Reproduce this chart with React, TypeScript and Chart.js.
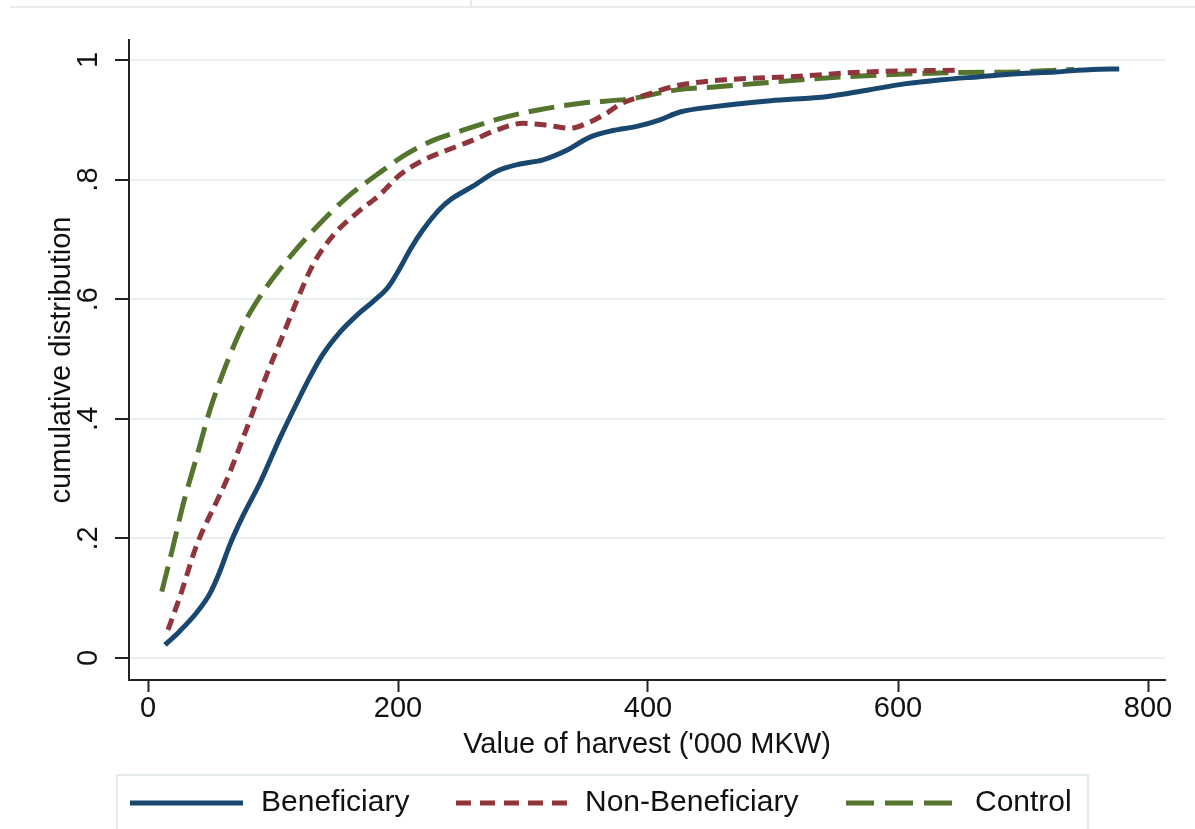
import React, { useEffect, useRef } from "react";
import { Chart, registerables } from "chart.js";

Chart.register(...registerables);

// Cumulative distribution of harvest value ('000 MKW) for each group
const beneficiaryX = [13.6, 25, 39, 49.6, 57, 65.6, 76, 89.6, 105.6, 119, 129.6, 140, 153.6, 167, 180, 192, 201.6, 210, 220, 233.6, 241.6, 260, 279, 297.6, 316, 335, 353.6, 372, 391, 409.6, 425.6, 453, 498, 544, 574, 605, 635, 665, 695.6, 725.7, 756, 777];
const beneficiaryY = [0.022, 0.044, 0.076, 0.108, 0.142, 0.19, 0.238, 0.293, 0.368, 0.426, 0.47, 0.508, 0.545, 0.573, 0.596, 0.62, 0.652, 0.684, 0.716, 0.751, 0.766, 0.789, 0.814, 0.826, 0.833, 0.849, 0.871, 0.882, 0.889, 0.9, 0.913, 0.922, 0.932, 0.939, 0.949, 0.96, 0.967, 0.972, 0.977, 0.98, 0.984, 0.985];

const nonBeneficiaryX = [16, 25.6, 39, 55, 63, 71, 84, 95, 108, 119, 132.6, 148.6, 167, 185.6, 201.6, 220, 239, 260, 279, 300, 319, 337.6, 351, 367, 377.6, 399, 423, 437.6, 461.6, 513.6, 574, 650];
const nonBeneficiaryY = [0.047, 0.103, 0.189, 0.262, 0.298, 0.34, 0.412, 0.474, 0.54, 0.597, 0.66, 0.708, 0.744, 0.775, 0.808, 0.832, 0.849, 0.866, 0.883, 0.894, 0.891, 0.886, 0.894, 0.911, 0.926, 0.942, 0.957, 0.962, 0.967, 0.972, 0.98, 0.983];

const controlX = [11, 20, 28, 39, 49.6, 63, 76, 92, 113.6, 135, 159, 183, 207, 228.6, 252.6, 281.6, 311, 348, 385.6, 423, 453, 489, 529, 589, 650, 696, 725.7, 741];
const controlY = [0.111, 0.186, 0.256, 0.337, 0.415, 0.493, 0.556, 0.612, 0.671, 0.721, 0.77, 0.808, 0.843, 0.866, 0.883, 0.902, 0.916, 0.928, 0.935, 0.95, 0.955, 0.961, 0.968, 0.975, 0.979, 0.98, 0.983, 0.984];

const seriesNames = ["Beneficiary", "Non-Beneficiary", "Control"];
const xTicks = [0, 200, 400, 600, 800];
const yTicks = [0, 0.2, 0.4, 0.6, 0.8, 1];
const yTickLabels = ["0", ".2", ".4", ".6", ".8", "1"];
const xTitle = "Value of harvest ('000 MKW)";
const yTitle = "cumulative distribution";

const FONT = "'Liberation Sans', Arial, Helvetica, sans-serif";
const TEXT = "#111111";
const AXIS = "#222222";
const GRID = "#e9f0f2";

const NAVY = "#1a476f";
const MAROON = "#90353b";
const FOREST = "#55752f";

const toPoints = (xs: number[], ys: number[]) => xs.map((x, i) => ({ x, y: ys[i] }));

// Framed legend row under the x-axis title, with line samples
const legendPlugin = {
  id: "framedLegend",
  afterDraw(chart: any) {
    const ctx = chart.ctx as CanvasRenderingContext2D;
    const items = [
      { x0: 130, x1: 243, tx: 261, dash: [] as number[] },
      { x0: 456, x1: 568, tx: 585, dash: [15, 9] },
      { x0: 846, x1: 952, tx: 975, dash: [28, 11] },
    ];
    const cy = 803;
    ctx.save();
    ctx.strokeStyle = "#e2eaee";
    ctx.lineWidth = 2;
    ctx.strokeRect(117, 775, 971, 90);
    chart.data.datasets.forEach((ds: any, i: number) => {
      const it = items[i];
      ctx.beginPath();
      ctx.setLineDash(it.dash);
      ctx.strokeStyle = ds.borderColor;
      ctx.lineWidth = 5;
      ctx.lineCap = "butt";
      ctx.moveTo(it.x0, cy);
      ctx.lineTo(it.x1, cy);
      ctx.stroke();
      ctx.setLineDash([]);
      ctx.fillStyle = TEXT;
      ctx.font = `30px ${FONT}`;
      ctx.textBaseline = "middle";
      ctx.textAlign = "left";
      ctx.fillText(ds.label, it.tx, cy);
    });
    ctx.restore();
  },
};

export default function App() {
  const canvasRef = useRef<HTMLCanvasElement | null>(null);

  useEffect(() => {
    const canvas = canvasRef.current;
    if (!canvas) return;
    const chart = new Chart(canvas, {
      type: "line",
      data: {
        datasets: [
          {
            label: seriesNames[0],
            data: toPoints(beneficiaryX, beneficiaryY),
            borderColor: NAVY,
            borderWidth: 5,
            pointRadius: 0,
            cubicInterpolationMode: "monotone",
          },
          {
            label: seriesNames[1],
            data: toPoints(nonBeneficiaryX, nonBeneficiaryY),
            borderColor: MAROON,
            borderWidth: 5,
            borderDash: [12, 7],
            pointRadius: 0,
            cubicInterpolationMode: "monotone",
          },
          {
            label: seriesNames[2],
            data: toPoints(controlX, controlY),
            borderColor: FOREST,
            borderWidth: 5,
            borderDash: [26, 10],
            pointRadius: 0,
            cubicInterpolationMode: "monotone",
          },
        ],
      },
      options: {
        responsive: false,
        animation: false,
        devicePixelRatio: 1,
        layout: { padding: { top: 40, right: 30, bottom: 0, left: 0 } },
        plugins: {
          legend: { display: false },
          tooltip: { enabled: false },
        },
        scales: {
          x: {
            type: "linear",
            min: -15.2,
            max: 813.6,
            afterBuildTicks: (scale: any) => {
              scale.ticks = xTicks.map((v) => ({ value: v }));
            },
            afterFit: (scale: any) => {
              scale.height = 149;
            },
            ticks: {
              autoSkip: false,
              maxRotation: 0,
              minRotation: 0,
              padding: 0,
              color: TEXT,
              font: { family: FONT, size: 29 },
              callback: (v: any) => String(v),
            },
            grid: {
              drawOnChartArea: false,
              drawTicks: true,
              tickLength: 12,
              tickColor: AXIS,
              tickWidth: 2,
            },
            border: { display: true, color: AXIS, width: 2 },
            title: {
              display: true,
              text: xTitle,
              color: TEXT,
              font: { family: FONT, size: 29 },
              padding: { top: 0, bottom: 66.6 },
            },
          },
          y: {
            type: "linear",
            min: -0.0368,
            max: 1.0334,
            afterBuildTicks: (scale: any) => {
              scale.ticks = yTicks.map((v) => ({ value: v }));
            },
            afterFit: (scale: any) => {
              scale.width = 129;
            },
            ticks: {
              autoSkip: false,
              minRotation: 90,
              maxRotation: 90,
              crossAlign: "center",
              padding: 14,
              color: TEXT,
              font: { family: FONT, size: 29 },
              callback: (v: any) => {
                const i = yTicks.findIndex((t) => Math.abs(t - Number(v)) < 1e-9);
                return i >= 0 ? yTickLabels[i] : "";
              },
            },
            grid: {
              drawOnChartArea: true,
              color: GRID,
              lineWidth: 2,
              drawTicks: true,
              tickLength: 14,
              tickColor: AXIS,
              tickWidth: 2,
            },
            border: { display: true, color: AXIS, width: 2 },
            title: {
              display: true,
              text: yTitle,
              color: TEXT,
              font: { family: FONT, size: 29 },
              padding: { top: 44.6, bottom: 0 },
            },
          },
        },
      },
      plugins: [legendPlugin],
    });
    return () => chart.destroy();
  }, []);

  return (
    <div style={{ position: "absolute", left: 0, top: 0, width: 1195, height: 829, background: "#fff", overflow: "hidden" }}>
      <div style={{ position: "absolute", left: 10, top: 6, width: 1185, height: 2, background: "#e6ecef" }} />
      <div style={{ position: "absolute", left: 470, top: 0, width: 2, height: 7, background: "#e6ecef" }} />
      <canvas ref={canvasRef} width={1195} height={829} style={{ display: "block" }} />
    </div>
  );
}
